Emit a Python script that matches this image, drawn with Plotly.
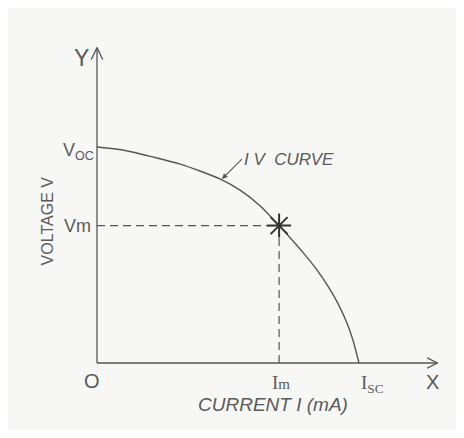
import plotly.graph_objects as go

# normalised I-V curve (current, voltage)
current = [0.0, 0.099, 0.229, 0.317, 0.393, 0.469, 0.546, 0.622, 0.695,
           0.737, 0.786, 0.840, 0.882, 0.920, 0.954, 0.977, 1.0]
voltage = [1.0, 0.986, 0.949, 0.921, 0.889, 0.852, 0.800, 0.728, 0.636,
           0.580, 0.512, 0.430, 0.355, 0.275, 0.185, 0.105, 0.0]

# key points
V_oc = 1.0
I_sc = 1.0
V_m = 0.636
I_m = 0.695

# axis arrow lengths
x_end = 1.30
y_end = 1.46

ink = "#555555"
txt = "#5a5a5a"
font = "Liberation Sans"

fig = go.Figure()

# axes
fig.add_trace(go.Scatter(x=[0, x_end], y=[0, 0], mode="lines",
                         line=dict(color=ink, width=1.3), hoverinfo="skip"))
fig.add_trace(go.Scatter(x=[0, 0], y=[0, y_end], mode="lines",
                         line=dict(color=ink, width=1.3), hoverinfo="skip"))
# open arrow heads
hx, hy = 0.04, 0.024
fig.add_trace(go.Scatter(x=[x_end - hx, x_end, x_end - hx], y=[hy, 0, -hy], mode="lines",
                         line=dict(color=ink, width=1.3), hoverinfo="skip"))
fig.add_trace(go.Scatter(x=[-0.022, 0, 0.022], y=[y_end - 0.055, y_end, y_end - 0.055], mode="lines",
                         line=dict(color=ink, width=1.3), hoverinfo="skip"))

# dashed guides to the max power point
fig.add_trace(go.Scatter(x=[0, I_m], y=[V_m, V_m], mode="lines",
                         line=dict(color=ink, width=1.2, dash="8px,5px"), hoverinfo="skip"))
fig.add_trace(go.Scatter(x=[I_m, I_m], y=[0, V_m], mode="lines",
                         line=dict(color=ink, width=1.2, dash="8px,5px"), hoverinfo="skip"))

# the curve
fig.add_trace(go.Scatter(x=current, y=voltage, mode="lines",
                         line=dict(color=ink, width=1.4, shape="spline", smoothing=0.6),
                         hoverinfo="skip"))

# max power point
fig.add_trace(go.Scatter(x=[I_m], y=[V_m], mode="markers",
                         marker=dict(symbol="asterisk-open", size=20, color="#333333",
                                     line=dict(color="#333333", width=2)),
                         hoverinfo="skip"))

labels = [
    dict(x=-0.061, y=1.412, text="Y", size=23),
    dict(x=-0.004, y=V_oc - 0.02, text="V<sub>OC</sub>", size=18, xanchor="right"),
    dict(x=-0.015, y=V_m, text="Vm", size=18, xanchor="right"),
    dict(x=-0.019, y=-0.083, text="O", size=20),
    dict(x=0.702, y=-0.088, text="I<span style='font-size:15px'>m</span>", size=19, fontfam="Liberation Serif"),
    dict(x=1.05, y=-0.097, text="I<sub>SC</sub>", size=19, fontfam="Liberation Serif"),
    dict(x=1.282, y=-0.088, text="X", size=20),
]
for lb in labels:
    fig.add_annotation(x=lb["x"], y=lb["y"], text=lb["text"], showarrow=False,
                       xanchor=lb.get("xanchor", "center"), yanchor="middle",
                       font=dict(family=lb.get("fontfam", font), size=lb["size"], color=txt))

# axis titles
fig.add_annotation(x=0.672, y=-0.194, text="<i>CURRENT I (mA)</i>", showarrow=False,
                   font=dict(family=font, size=19, color=txt))
fig.add_annotation(x=-0.191, y=0.66, text="VOLTAGE V", showarrow=False, textangle=-90,
                   font=dict(family=font, size=16, color=txt))

# curve label with pointer to the curve
fig.add_annotation(x=0.477, y=0.852, ax=0.553, ay=0.944, axref="x", ayref="y",
                   text="<i>I V  CURVE</i>", xanchor="left", yanchor="middle",
                   showarrow=True, arrowhead=2, arrowsize=1.0, arrowwidth=1.1,
                   arrowcolor=ink, font=dict(family=font, size=17, color=txt))

fig.update_layout(
    width=448, height=422,
    margin=dict(l=0, r=0, t=0, b=0),
    paper_bgcolor="#f7f7f5", plot_bgcolor="#f7f7f5",
    showlegend=False,
    xaxis=dict(range=[-0.3397, 1.3702], visible=False, fixedrange=True),
    yaxis=dict(range=[-0.3102, 1.6435], visible=False, fixedrange=True),
)

fig.write_html("out.html")
